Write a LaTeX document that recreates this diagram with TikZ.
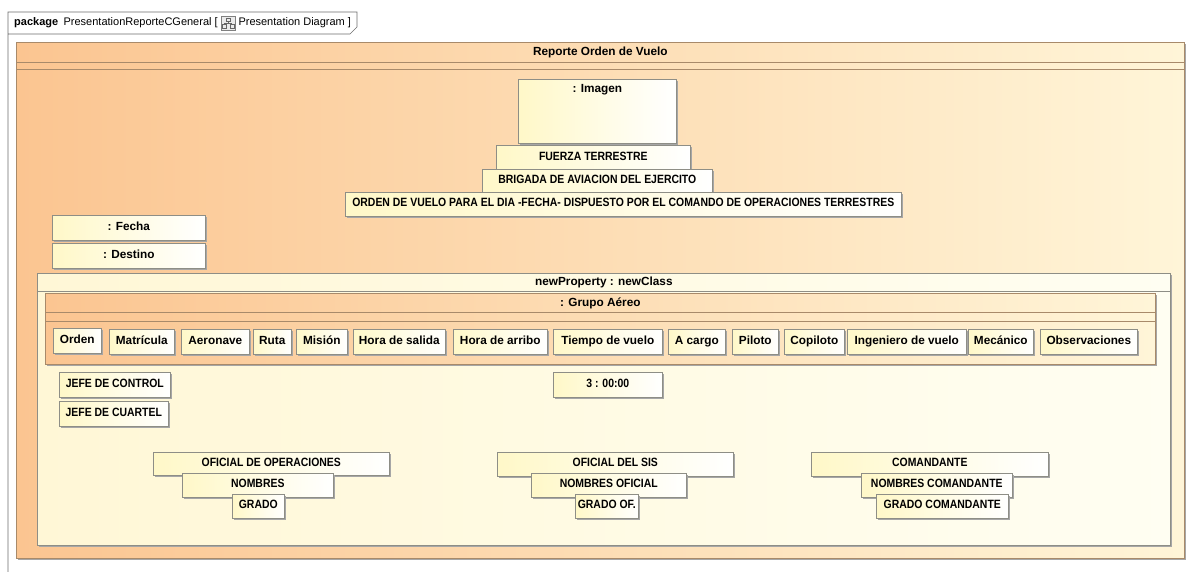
\documentclass[tikz,border=0pt]{standalone}
\usepackage{fontspec}
\setmainfont{Liberation Sans}
\newfontfamily\narrowsf[FakeStretch=0.87]{Liberation Sans}
\usetikzlibrary{positioning, calc, shadows}
\definecolor{OrgL}  {HTML}{FBC591}
\definecolor{OrgR}  {HTML}{FFF5D8}
\definecolor{PaleL} {HTML}{FFF7D6}
\definecolor{PaleR} {HTML}{FFFEF2}
\definecolor{CellL} {HTML}{FFF8C8}
\definecolor{CellD} {HTML}{8E8E86}
\definecolor{Brn}   {HTML}{A88A6A}
\definecolor{FGray} {HTML}{6E6E6E}
\tikzset{
  shd/.style={general shadow={fill=black!35, shadow xshift=2pt, shadow yshift=-2pt}},
  cell/.style={
    rectangle, anchor=north west, draw=CellD, line width=0.6pt,
    left color=CellL, right color=white, shd,
    font=\fontsize{11.8}{13}\selectfont\bfseries, inner sep=0pt,
    text height=9pt, text depth=4pt,
  },
  ccell/.style={cell, font=\narrowsf\fontsize{12}{14}\selectfont\bfseries},
  cont/.style args={#1/#2/#3}{
    rectangle, anchor=north west, draw=#1, line width=0.7pt,
    left color=#2, right color=#3, shd, inner sep=0pt,
  },
  ttl/.style={font=\fontsize{11.8}{13}\selectfont\bfseries, inner sep=0pt},
  pkgtxt/.style={font=\fontsize{11}{13}\selectfont, inner sep=0pt, anchor=west},
}
\begin{document}
\begin{tikzpicture}[x=1pt,y=-1pt]
  \useasboundingbox[fill=white] (0,0) rectangle (1193,572);

  % diagram frame
  \draw[FGray, line width=0.7pt] (8,572) -- (8,12) -- (357,12) -- (357,27) -- (350,34) -- (8,34);
  \node[pkgtxt, font=\fontsize{11}{13}\selectfont\bfseries] (pkgkw) at (14,23) {package};
  \node[pkgtxt, right=5pt of pkgkw] (pkgname) {PresentationReporteCGeneral [};
  \node[draw=black!50, fill=black!8, minimum width=14pt, minimum height=14pt, inner sep=0pt,
        right=3pt of pkgname] (pkgicon) {};
  \draw[black!60, line width=0.5pt]
    ($(pkgicon.center)+(-2,-5)$) rectangle ($(pkgicon.center)+(2,-2)$)
    ($(pkgicon.center)+(0,-2)$) -- ($(pkgicon.center)+(0,0)$)
    ($(pkgicon.center)+(-4,0)$) -- ($(pkgicon.center)+(4,0)$)
    ($(pkgicon.center)+(-6,1)$) rectangle ($(pkgicon.center)+(-2,5)$)
    ($(pkgicon.center)+(2,1)$) rectangle ($(pkgicon.center)+(6,5)$);
  \node[pkgtxt, right=3pt of pkgicon] (pkgtype) {Presentation Diagram ]};

  % Reporte Orden de Vuelo
  \node[cont=Brn/OrgL/OrgR, minimum width=1168, minimum height=516] (rep) at (16,42) {};
  \draw[Brn, line width=0.7pt] ($(rep.north west)+(0,20)$) -- ($(rep.north east)+(0,20)$);
  \draw[Brn, line width=0.7pt] ($(rep.north west)+(0,27)$) -- ($(rep.north east)+(0,27)$);
  \node[ttl] (repT) at ($(rep.north)+(0,10)$) {Reporte Orden de Vuelo};

  \node[cell, minimum width=158, minimum height=64, text height=13pt, text depth=51pt] (img) at (518,79) {: Imagen};
  \node[ccell, minimum width=194, minimum height=25] (fza) at (496,145) {FUERZA TERRESTRE};
  \node[ccell, minimum width=230, minimum height=24] (brig) at (482,169) {BRIGADA DE AVIACION DEL EJERCITO};
  \node[ccell, minimum width=556, minimum height=24] (odv) at (345,192) {ORDEN DE VUELO PARA EL DIA -FECHA- DISPUESTO POR EL COMANDO DE OPERACIONES TERRESTRES};
  \node[cell, minimum width=153, minimum height=25] (fecha) at (52,215) {: Fecha};
  \node[cell, minimum width=153, minimum height=25] (dest) at (52,243) {: Destino};

  % newProperty : newClass
  \node[cont=CellD/PaleL/PaleR, minimum width=1133, minimum height=272] (ncls) at (37,273) {};
  \draw[CellD, line width=0.7pt] ($(ncls.north west)+(0,18)$) -- ($(ncls.north east)+(0,18)$);
  \node[ttl] (nclsT) at ($(ncls.north)+(0,9)$) {newProperty : newClass};

  % : Grupo Aereo
  \node[cont=Brn/OrgL/OrgR, minimum width=1110, minimum height=71] (grp) at (45,293) {};
  \draw[Brn, line width=0.7pt] ($(grp.north west)+(0,19)$) -- ($(grp.north east)+(0,19)$);
  \draw[Brn, line width=0.7pt] ($(grp.north west)+(0,28)$) -- ($(grp.north east)+(0,28)$);
  \node[ttl] (grpT) at ($(grp.north)+(0,10)$) {: Grupo Aéreo};

  \node[cell, minimum width=48, minimum height=25] (orden) at (53,328) {Orden};
  \node[cell, minimum width=65, minimum height=25] (matr) at (109,329) {Matrícula};
  \node[cell, minimum width=68, minimum height=25] (aeron) at (181,329) {Aeronave};
  \node[cell, minimum width=38, minimum height=25] (ruta) at (253,329) {Ruta};
  \node[cell, minimum width=51, minimum height=25] (mision) at (296,329) {Misión};
  \node[cell, minimum width=92, minimum height=25] (hsal) at (353,329) {Hora de salida};
  \node[cell, minimum width=94, minimum height=25] (harr) at (453,329) {Hora de arribo};
  \node[cell, minimum width=109, minimum height=25] (tvuelo) at (553,329) {Tiempo de vuelo};
  \node[cell, minimum width=57, minimum height=25] (acargo) at (668,329) {A cargo};
  \node[cell, minimum width=46, minimum height=25] (piloto) at (732,329) {Piloto};
  \node[cell, minimum width=60, minimum height=25] (copil) at (784,329) {Copiloto};
  \node[cell, minimum width=119, minimum height=25] (ingv) at (847,329) {Ingeniero de vuelo};
  \node[cell, minimum width=65, minimum height=25] (mecan) at (968,329) {Mecánico};
  \node[cell, minimum width=97, minimum height=25] (obs) at (1040,329) {Observaciones};

  \node[ccell, minimum width=111, minimum height=25] (jctrl) at (59,372) {JEFE DE CONTROL};
  \node[ccell, minimum width=109, minimum height=25] (jcuar) at (59,401) {JEFE DE CUARTEL};
  \node[ccell, minimum width=109, minimum height=25] (hora) at (553,372) {3 : 00:00};

  \node[ccell, minimum width=236, minimum height=23] (ofop) at (153,452) {OFICIAL DE OPERACIONES};
  \node[ccell, minimum width=151, minimum height=24] (nomop) at (182,473) {NOMBRES};
  \node[ccell, minimum width=52, minimum height=24] (grop) at (232,494) {GRADO};

  \node[ccell, minimum width=236, minimum height=24] (ofsis) at (497,452) {OFICIAL DEL SIS};
  \node[ccell, minimum width=155, minimum height=24] (nomsis) at (531,473) {NOMBRES OFICIAL};
  \node[ccell, minimum width=63, minimum height=24] (grsis) at (575,494) {GRADO OF.};

  \node[ccell, minimum width=237, minimum height=24] (cmdt) at (811,452) {COMANDANTE};
  \node[ccell, minimum width=151, minimum height=24] (nomcmd) at (861,473) {NOMBRES COMANDANTE};
  \node[ccell, minimum width=132, minimum height=24] (grcmd) at (876,494) {GRADO COMANDANTE};
\end{tikzpicture}
\end{document}
